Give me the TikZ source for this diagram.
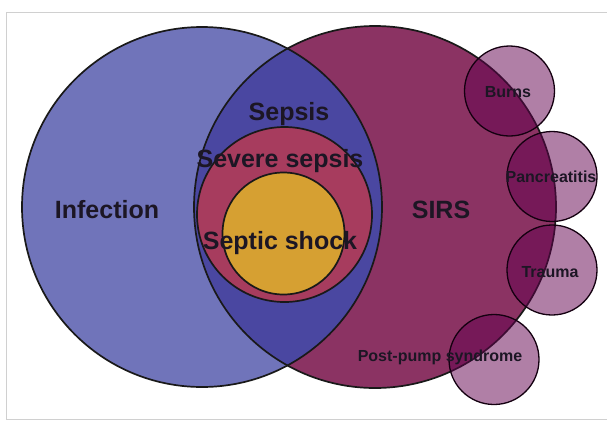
\documentclass[tikz,border=0pt]{standalone}
\usepackage{fontspec}
\setmainfont{Liberation Sans}
\usepackage{tikz}

\definecolor{infectblue}{RGB}{112,116,186}
\definecolor{sepsisblue}{RGB}{74,71,161}
\definecolor{sirsred}{RGB}{139,51,99}
\definecolor{severered}{RGB}{167,60,94}
\definecolor{shockgold}{RGB}{214,160,50}
\definecolor{causemauve}{RGB}{98,0,78}
\definecolor{labelink}{RGB}{28,22,36}
\definecolor{framegrey}{RGB}{208,208,208}

\begin{document}
\begin{tikzpicture}[x=1pt, y=-1pt,
        ring/.style={draw=black!90, line width=1.7pt},
        causering/.style={draw=black!80!causemauve, line width=1.3pt},
        bigtxt/.style={font=\fontsize{25}{28}\selectfont\bfseries, text=labelink, anchor=base},
        smalltxt/.style={font=\fontsize{16}{18}\selectfont\bfseries, text=labelink, anchor=base}]
        \useasboundingbox (0,0) rectangle (607,421);
        \draw[framegrey, line width=1pt] (6,12) rectangle (615,419);
        \fill[infectblue] (202,207) circle (180);
        \fill[sirsred] (375,207) circle (181);
        \begin{scope}
            \clip (202,207) circle (180);
            \fill[sepsisblue] (375,207) circle (181);
        \end{scope}
        \draw[ring] (202,207) circle (180);
        \draw[ring] (375,207) circle (181);
        \filldraw[ring, fill=severered] (284.5,214.5) circle (87.5);
        \filldraw[ring, fill=shockgold] (283.5,233.5) circle (61);
        \foreach \cx/\cy in {509.5/91, 552/176.5, 552/270, 494/359.5}
        \filldraw[causering, fill=causemauve, fill opacity=0.5] (\cx,\cy) 
        circle (45);
        \node[bigtxt] (infection) at (107,218) {Infection};
        \node[bigtxt] (sirs) at (441,218) {SIRS};
        \node[bigtxt] (sepsis) at (289,120) {Sepsis};
        \node[bigtxt] (severe) at (280,167) {Severe sepsis};
        \node[bigtxt] (shock) at (280,249) {Septic shock};
        \node[smalltxt] (burns) at (508,97) {Burns};
        \node[smalltxt] (pancreatitis) at (551,182) {Pancreatitis};
        \node[smalltxt] (trauma) at (550,277) {Trauma};
        \node[smalltxt] (postpump) at (440,361) {Post-pump syndrome};
    \end{tikzpicture}
\end{document}
